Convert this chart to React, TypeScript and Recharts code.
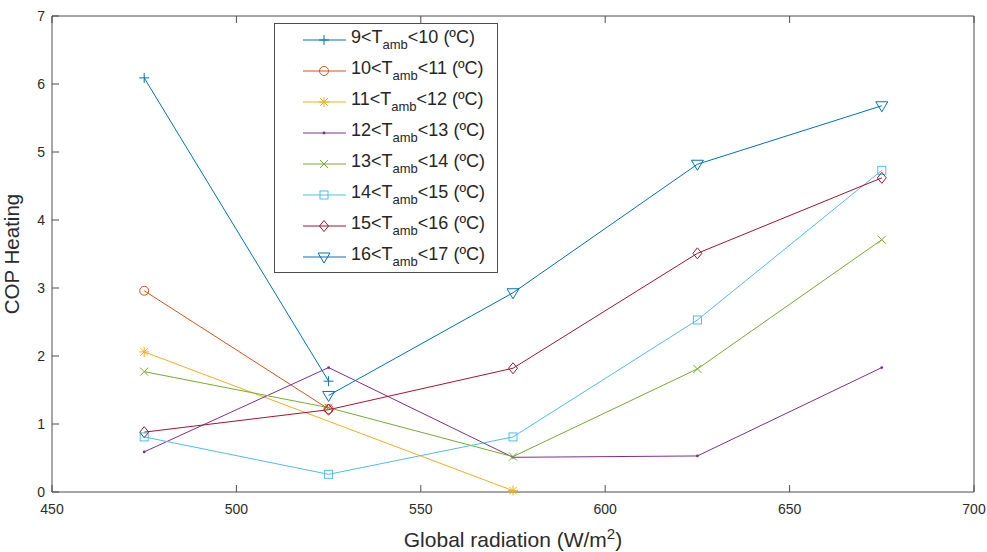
import { LineChart, Line, XAxis, YAxis, Legend } from 'recharts';

// Global radiation bins (W/m2) and axis ticks
const radiation = [475, 525, 575, 625, 675];
const xTicks = [450, 500, 550, 600, 650, 700];
const yTicks = [0, 1, 2, 3, 4, 5, 6, 7];

// COP heating per ambient temperature band (null = no sample)
const cop9to10 = [6.09, 1.63, null, null, null];
const cop10to11 = [2.96, 1.22, null, null, null];
const cop11to12 = [2.06, null, 0.02, null, null];
const cop12to13 = [0.59, 1.83, 0.51, 0.53, 1.83];
const cop13to14 = [1.77, 1.24, 0.52, 1.81, 3.71];
const cop14to15 = [0.81, 0.26, 0.81, 2.53, 4.73];
const cop15to16 = [0.88, 1.21, 1.82, 3.51, 4.62];
const cop16to17 = [null, 1.42, 2.93, 4.82, 5.68];

const bandLows = [9, 10, 11, 12, 13, 14, 15, 16];

type Shape = 'plus' | 'circle' | 'star' | 'point' | 'cross' | 'square' | 'diamond' | 'triangle';

const series: { key: string; values: (number | null)[]; color: string; shape: Shape }[] = [
  { key: 't9', values: cop9to10, color: '#0072BD', shape: 'plus' },
  { key: 't10', values: cop10to11, color: '#D95319', shape: 'circle' },
  { key: 't11', values: cop11to12, color: '#EDB120', shape: 'star' },
  { key: 't12', values: cop12to13, color: '#7E2F8E', shape: 'point' },
  { key: 't13', values: cop13to14, color: '#77AC30', shape: 'cross' },
  { key: 't14', values: cop14to15, color: '#4DBEEE', shape: 'square' },
  { key: 't15', values: cop15to16, color: '#A2142F', shape: 'diamond' },
  { key: 't16', values: cop16to17, color: '#0072BD', shape: 'triangle' },
];

const chartData = radiation.map((x, i) => {
  const row: Record<string, number | null> = { x };
  series.forEach((s) => {
    row[s.key] = s.values[i];
  });
  return row;
});

const FONT = '"Liberation Sans", Arial, Helvetica, sans-serif';
const AXIS = '#4d4d4d';
const TEXT = '#2b2b2b';

const Marker = ({ shape, cx, cy, color }: { shape: Shape; cx: number; cy: number; color: string }) => {
  const p = { stroke: color, strokeWidth: 1, fill: 'none' };
  switch (shape) {
    case 'plus':
      return (
        <g {...p}>
          <line x1={cx - 5} y1={cy} x2={cx + 5} y2={cy} />
          <line x1={cx} y1={cy - 5} x2={cx} y2={cy + 5} />
        </g>
      );
    case 'circle':
      return <circle cx={cx} cy={cy} r={4.5} {...p} />;
    case 'star':
      return (
        <g {...p}>
          <line x1={cx - 5} y1={cy} x2={cx + 5} y2={cy} />
          <line x1={cx} y1={cy - 5} x2={cx} y2={cy + 5} />
          <line x1={cx - 3.8} y1={cy - 3.8} x2={cx + 3.8} y2={cy + 3.8} />
          <line x1={cx - 3.8} y1={cy + 3.8} x2={cx + 3.8} y2={cy - 3.8} />
        </g>
      );
    case 'point':
      return <circle cx={cx} cy={cy} r={1.4} fill={color} stroke="none" />;
    case 'cross':
      return (
        <g {...p}>
          <line x1={cx - 4} y1={cy - 4} x2={cx + 4} y2={cy + 4} />
          <line x1={cx - 4} y1={cy + 4} x2={cx + 4} y2={cy - 4} />
        </g>
      );
    case 'square':
      return <rect x={cx - 4} y={cy - 4} width={8} height={8} {...p} />;
    case 'diamond':
      return <polygon points={`${cx},${cy - 5.5} ${cx + 4.5},${cy} ${cx},${cy + 5.5} ${cx - 4.5},${cy}`} {...p} />;
    case 'triangle':
      return <polygon points={`${cx - 6},${cy - 4} ${cx + 6},${cy - 4} ${cx},${cy + 6}`} {...p} />;
  }
  return null;
};

const LegendBox = () => (
  <div
    style={{
      border: `1px solid ${AXIS}`,
      background: '#fff',
      width: 222,
      height: 248,
      boxSizing: 'content-box',
      fontFamily: FONT,
      color: '#262626',
    }}
  >
    {series.map((s, i) => (
      <div key={s.key} style={{ display: 'flex', alignItems: 'center', height: 31 }}>
        <svg width={76} height={16} style={{ flex: 'none' }}>
          <line x1={28} y1={8} x2={71} y2={8} stroke={s.color} strokeWidth={1} />
          <Marker shape={s.shape} cx={49} cy={8} color={s.color} />
        </svg>
        <span style={{ fontSize: 18, whiteSpace: 'nowrap' }}>
          {bandLows[i]}&lt;T
          <span style={{ fontSize: 13, verticalAlign: -6 }}>amb</span>
          &lt;{bandLows[i] + 1} (ºC)
        </span>
      </div>
    ))}
  </div>
);

const App = () => {
  return (
    <div style={{ position: 'absolute', left: 0, top: 0, width: 987, height: 552, background: '#fff' }}>
      <LineChart width={987} height={552} data={chartData} margin={{ top: 0, right: 0, bottom: 0, left: 0 }}>
        <XAxis
          dataKey="x"
          type="number"
          domain={[450, 700]}
          ticks={xTicks}
          height={60}
          stroke={AXIS}
          tickSize={-7}
          tickMargin={19}
          tick={{ fill: TEXT, fontSize: 14, fontFamily: FONT }}
          label={{
            content: ({ viewBox }: any) => (
              <text
                x={viewBox.x + viewBox.width / 2}
                y={547}
                textAnchor="middle"
                fill={TEXT}
                fontSize={21}
                fontFamily={FONT}
              >
                Global radiation (W/m
                <tspan dy={-8} fontSize={15}>2</tspan>
                <tspan dy={8}>)</tspan>
              </text>
            ),
          }}
        />
        <XAxis
          xAxisId="top"
          dataKey="x"
          type="number"
          orientation="top"
          domain={[450, 700]}
          ticks={xTicks}
          height={16}
          stroke={AXIS}
          tickSize={-7}
          tickFormatter={() => ''}
        />
        <YAxis
          type="number"
          domain={[0, 7]}
          ticks={yTicks}
          width={52}
          stroke={AXIS}
          tickSize={-7}
          tickMargin={14}
          tick={{ fill: TEXT, fontSize: 14, fontFamily: FONT }}
          label={{
            content: ({ viewBox }: any) => {
              const cy = viewBox.y + viewBox.height / 2;
              return (
                <text
                  x={19}
                  y={cy}
                  transform={`rotate(-90 19 ${cy})`}
                  textAnchor="middle"
                  fill={TEXT}
                  fontSize={20.5}
                  fontFamily={FONT}
                >
                  COP Heating
                </text>
              );
            },
          }}
        />
        <YAxis
          yAxisId="right"
          type="number"
          orientation="right"
          domain={[0, 7]}
          ticks={yTicks}
          width={13}
          stroke={AXIS}
          tickSize={-7}
          tickFormatter={() => ''}
        />
        <Legend
          layout="vertical"
          align="center"
          verticalAlign="middle"
          content={() => <LegendBox />}
          wrapperStyle={{ position: 'absolute', left: 274, top: 23, width: 224, height: 250 }}
        />
        {series.map((s) => (
          <Line
            key={s.key}
            dataKey={s.key}
            type="linear"
            stroke={s.color}
            strokeWidth={1}
            connectNulls
            isAnimationActive={false}
            activeDot={false}
            dot={(p: any) => {
              if (p.value == null || p.cy == null || Number.isNaN(p.cy)) {
                return <g key={`${s.key}-${p.index}`} />;
              }
              return (
                <g key={`${s.key}-${p.index}`}>
                  <Marker shape={s.shape} cx={p.cx} cy={p.cy} color={s.color} />
                </g>
              );
            }}
          />
        ))}
      </LineChart>
    </div>
  );
};

export default App;
